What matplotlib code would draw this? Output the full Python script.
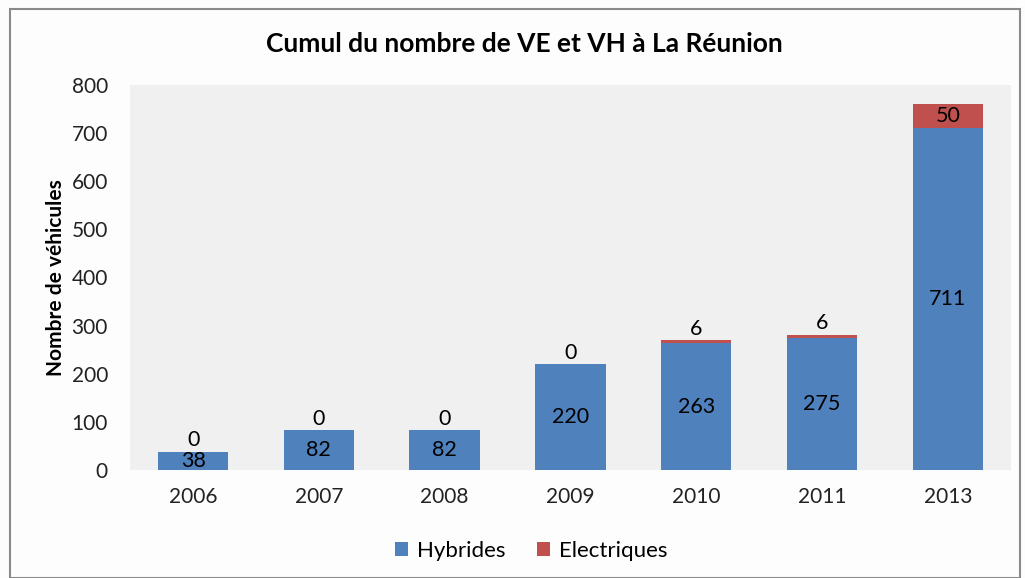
import matplotlib.pyplot as plt
import numpy as np

plt.rcParams['font.family'] = ['Lato', 'DejaVu Sans']

# Data
years = ['2006', '2007', '2008', '2009', '2010', '2011', '2013']
hybrides = [38, 82, 82, 220, 263, 275, 711]
electriques = [0, 0, 0, 0, 6, 6, 50]

blue = '#4f81bd'
red = '#c0504d'

fig = plt.figure(figsize=(10.25, 5.78), dpi=100, facecolor='#fdfdfd')
ax = fig.add_axes([0.127, 0.187, 0.859, 0.666])
ax.set_facecolor('#f0f0f0')

x = np.arange(len(years))
w = 0.56
ax.bar(x, hybrides, w, color=blue, label='Hybrides', zorder=2)
ax.bar(x, electriques, w, bottom=hybrides, color=red, label='Electriques', zorder=2)

# Labels
for i in range(len(years)):
    ax.text(x[i], hybrides[i] / 2, str(hybrides[i]), ha='center', va='center',
            fontsize=15.5, color='black', zorder=3)
    top = hybrides[i] + electriques[i]
    if electriques[i] >= 20:
        ax.text(x[i], hybrides[i] + electriques[i] / 2, str(electriques[i]),
                ha='center', va='center', fontsize=15.5, color='black', zorder=3)
    else:
        ax.annotate(str(electriques[i]), (x[i], top), xytext=(0, 1),
                    textcoords='offset points', ha='center', va='bottom',
                    fontsize=15.5, color='black', zorder=3)

ax.set_xlim(-0.5, len(years) - 0.5)
ax.set_ylim(0, 800)
ax.set_yticks(range(0, 801, 100))
ax.set_xticks(x)
ax.set_xticklabels(years)
ax.tick_params(axis='both', length=0, labelsize=15, colors='#222222')
ax.tick_params(axis='x', pad=12)
ax.tick_params(axis='y', pad=16)
for s in ax.spines.values():
    s.set_visible(False)

ax.set_ylabel('Nombre de véhicules', fontsize=15, fontweight='bold', labelpad=4)
fig.suptitle('Cumul du nombre de VE et VH à La Réunion', fontsize=19,
             fontweight='bold', x=0.512, y=0.945)

fig.legend(loc='lower center', bbox_to_anchor=(0.518, -0.005), ncol=2,
           frameon=False, fontsize=16, handlelength=0.6, handleheight=0.6,
           columnspacing=1.4, handletextpad=0.4)

# outer border
fig.add_artist(plt.Rectangle((0.01, 0.0), 0.985, 0.985, transform=fig.transFigure,
                             fill=False, edgecolor='#8a8a8a', linewidth=1.5))

fig.savefig('out.png', dpi=100, facecolor=fig.get_facecolor())
